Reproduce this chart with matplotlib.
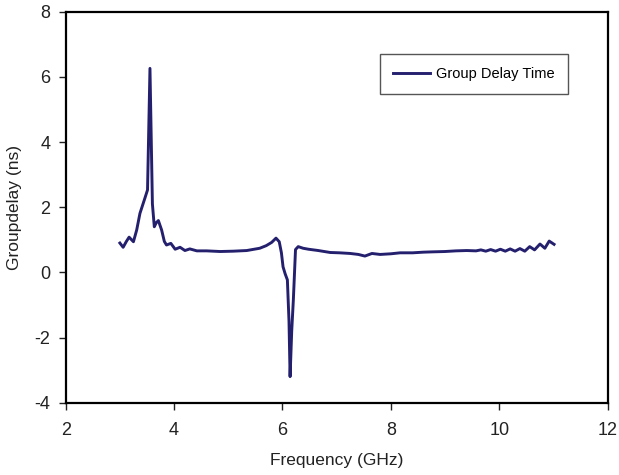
import matplotlib
matplotlib.use("Agg")
import matplotlib.pyplot as plt

# group delay
freq = [3.00, 3.06, 3.12, 3.17, 3.25, 3.31, 3.37, 3.46, 3.51, 3.555,
        3.60, 3.635, 3.67, 3.71, 3.77, 3.82, 3.86, 3.94, 4.02, 4.11,
        4.20, 4.29, 4.42, 4.60, 4.85, 5.09, 5.34, 5.58, 5.70, 5.80,
        5.88, 5.94, 5.98, 6.01, 6.05, 6.09, 6.12, 6.14, 6.17, 6.20,
        6.24, 6.29, 6.38, 6.48, 6.66, 6.88, 7.05, 7.25, 7.40, 7.52,
        7.65, 7.80, 8.00, 8.17, 8.40, 8.60, 8.78, 9.00, 9.20, 9.40,
        9.57, 9.66, 9.75, 9.84, 9.93, 10.02, 10.11, 10.20, 10.29, 10.38,
        10.47, 10.56, 10.65, 10.75, 10.84, 10.92, 11.01]
delay = [0.90, 0.77, 0.95, 1.08, 0.94, 1.30, 1.81, 2.27, 2.53, 6.26,
         2.10, 1.40, 1.52, 1.59, 1.30, 0.95, 0.84, 0.89, 0.71, 0.77,
         0.67, 0.72, 0.66, 0.66, 0.64, 0.65, 0.67, 0.74, 0.82, 0.92,
         1.05, 0.94, 0.60, 0.17, -0.05, -0.23, -1.50, -3.20, -1.80, -0.85,
         0.70, 0.79, 0.74, 0.71, 0.67, 0.61, 0.60, 0.58, 0.55, 0.50,
         0.58, 0.55, 0.57, 0.60, 0.60, 0.62, 0.63, 0.64, 0.66, 0.67,
         0.66, 0.69, 0.65, 0.70, 0.65, 0.71, 0.65, 0.72, 0.65, 0.73,
         0.65, 0.79, 0.69, 0.87, 0.74, 0.96, 0.86]

plt.rcParams['font.family'] = ['Liberation Sans', 'DejaVu Sans']
plt.rcParams['axes.unicode_minus'] = False

fig = plt.figure(figsize=(6.19, 4.75), dpi=100)
ax = fig.add_axes([0.1061, 0.1522, 0.8757, 0.8232])

ax.plot(freq, delay, color='#24206e', linewidth=2.1, label='Group Delay Time')

ax.set_xlim(2, 12)
ax.set_ylim(-4, 8)
ax.set_xticks([2, 4, 6, 8, 10, 12])
ax.set_yticks([-4, -2, 0, 2, 4, 6, 8])
ax.tick_params(direction='out', length=5, width=1, labelsize=13,
               colors='#222222')
ax.tick_params(axis='x', pad=9)
ax.tick_params(axis='y', pad=6)

for s in ax.spines.values():
    s.set_linewidth(1.6)
    s.set_color('black')

ax.set_xlabel('Frequency (GHz)', fontsize=12.5, labelpad=10, color='#222222')
ax.set_ylabel('Groupdelay (ns)', fontsize=12.5, labelpad=9, color='#222222')

leg = ax.legend(loc='upper left', bbox_to_anchor=(0.58, 0.892), fontsize=10.5,
                fancybox=False, edgecolor='#555555', framealpha=1,
                handlelength=2.5, borderpad=0.9, handletextpad=0.45,
                borderaxespad=0)
leg.get_frame().set_linewidth(1.0)

fig.savefig('out.png', dpi=100)
